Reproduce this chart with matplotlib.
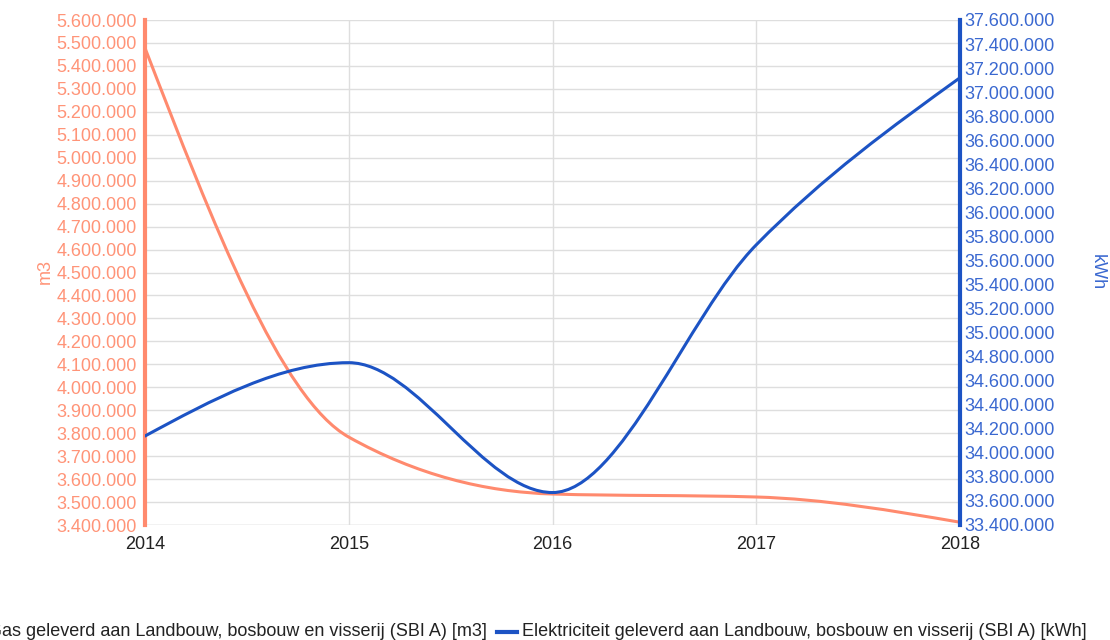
import matplotlib
matplotlib.use("Agg")
import matplotlib.pyplot as plt
from matplotlib.path import Path
from matplotlib.patches import PathPatch
from matplotlib.ticker import FuncFormatter, MultipleLocator
from matplotlib.lines import Line2D

plt.rcParams["font.family"] = ["Liberation Sans", "DejaVu Sans"]

# ── Data ──────────────────────────────────────────────────────────────────────
years = [2014, 2015, 2016, 2017, 2018]
gas_m3 = [5478000, 3783000, 3535000, 3522000, 3412000]
elec_kwh = [34140000, 34750000, 33670000, 35730000, 37120000]

gas_label = "Gas geleverd aan Landbouw, bosbouw en visserij (SBI A) [m3]"
elec_label = "Elektriciteit geleverd aan Landbouw, bosbouw en visserij (SBI A) [kWh]"

ORANGE = "#ff8a6e"
ORANGE_TXT = "#ff9478"
BLUE = "#1c53c4"
BLUE_TXT = "#3a68d0"
GRID = "#dedede"
FS = 13


def dutch(v, pos=None):
    return f"{int(round(v)):,}".replace(",", ".")


def sign(v):
    return (v > 0) - (v < 0)


def smooth_path(xs, ys):
    # monotone cubic (Fritsch-Carlson style) tangents, drawn as bezier segments
    n = len(xs)
    h = [xs[i + 1] - xs[i] for i in range(n - 1)]
    s = [(ys[i + 1] - ys[i]) / h[i] for i in range(n - 1)]
    t = [0.0] * n
    for i in range(1, n - 1):
        p = (s[i - 1] * h[i] + s[i] * h[i - 1]) / (h[i - 1] + h[i])
        t[i] = (sign(s[i - 1]) + sign(s[i])) * min(abs(s[i - 1]), abs(s[i]), 0.5 * abs(p))
    t[0] = (3 * s[0] - t[1]) / 2
    t[-1] = (3 * s[-1] - t[-2]) / 2

    verts = [(xs[0], ys[0])]
    codes = [Path.MOVETO]
    for i in range(n - 1):
        d = h[i] / 3
        verts += [(xs[i] + d, ys[i] + t[i] * d),
                  (xs[i + 1] - d, ys[i + 1] - t[i + 1] * d),
                  (xs[i + 1], ys[i + 1])]
        codes += [Path.CURVE4] * 3
    return Path(verts, codes)


fig = plt.figure(figsize=(11.1, 6.4), dpi=100)
ax = fig.add_axes([145 / 1110, 1 - 525 / 640, (960 - 145) / 1110, (525 - 20) / 640])
ax2 = ax.twinx()

ax.set_xlim(years[0], years[-1])
ax.set_ylim(3400000, 5600000)
ax2.set_ylim(33400000, 37600000)

ax.add_patch(PathPatch(smooth_path(years, gas_m3), fill=False, edgecolor=ORANGE,
                       lw=2.2, capstyle="round", joinstyle="round", zorder=3))
ax2.add_patch(PathPatch(smooth_path(years, elec_kwh), fill=False, edgecolor=BLUE,
                        lw=2.2, capstyle="round", joinstyle="round", zorder=3))

# ticks
ax.set_xticks(years)
ax.set_xticklabels([str(y) for y in years])
ax.yaxis.set_major_locator(MultipleLocator(100000))
ax.yaxis.set_major_formatter(FuncFormatter(dutch))
ax2.yaxis.set_major_locator(MultipleLocator(200000))
ax2.yaxis.set_major_formatter(FuncFormatter(dutch))

ax.tick_params(axis="x", length=0, pad=8, labelsize=FS, labelcolor="#222222")
ax.tick_params(axis="y", length=0, pad=6, labelsize=FS, labelcolor=ORANGE_TXT)
ax2.tick_params(axis="y", length=0, pad=3, labelsize=FS, labelcolor=BLUE_TXT)

ax.grid(True, color=GRID, lw=1)
ax.set_axisbelow(True)

for a in (ax, ax2):
    for sp in ("top", "bottom"):
        a.spines[sp].set_visible(False)
ax.spines["right"].set_visible(False)
ax2.spines["left"].set_visible(False)
ax.spines["left"].set_color(ORANGE)
ax.spines["left"].set_linewidth(3)
ax2.spines["right"].set_color(BLUE)
ax2.spines["right"].set_linewidth(3)
ax.axhline(3400000, color=GRID, lw=1, zorder=0)

# axis titles
fig.text(45 / 1110, 1 - 272 / 640, "m3", rotation=90, color=ORANGE_TXT,
         fontsize=FS, ha="center", va="center")
fig.text(1097 / 1110, 1 - 272 / 640, "kWh", rotation=270, color=BLUE_TXT,
         fontsize=FS, ha="center", va="center")

# legend (cut off at the left edge as in the original)
ly = 1 - 632 / 640
fig.text(487 / 1110, ly, gas_label, ha="right", va="center", fontsize=FS, color="#222222")
fig.add_artist(Line2D([497 / 1110, 517 / 1110], [ly, ly], color=BLUE, lw=3,
                      transform=fig.transFigure))
fig.text(522 / 1110, ly, elec_label, ha="left", va="center", fontsize=FS, color="#222222")

fig.savefig("out.png", dpi=100)
